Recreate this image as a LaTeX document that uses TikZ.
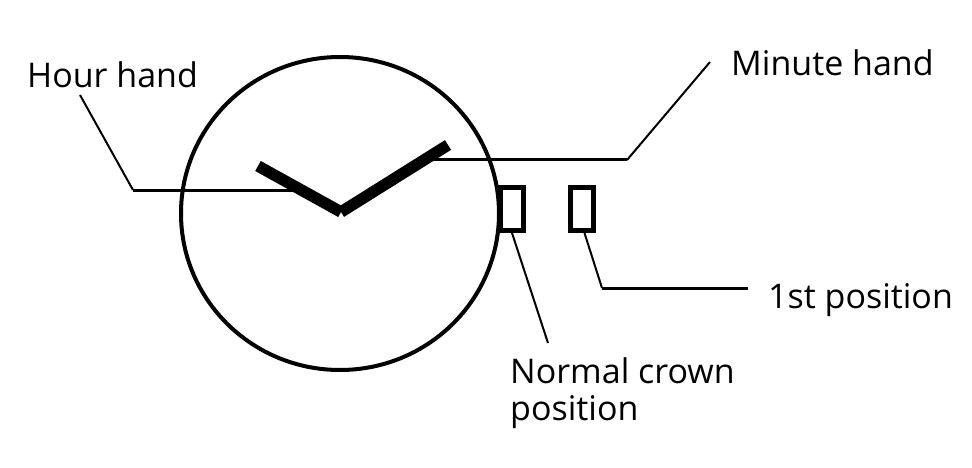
\documentclass[tikz,border=0pt]{standalone}
\usepackage{fontspec}
\setmainfont{Open Sans}
\begin{document}
\begin{tikzpicture}[x=1pt,y=-1pt,
  lbl/.style={anchor=base west,inner sep=0pt,font=\fontsize{34}{37}\selectfont},
  leader/.style={line width=2pt},
  rail/.style={line width=3pt},
  hand/.style={line width=11.5pt,line cap=butt},
  crownbox/.style={draw,line width=5pt,minimum width=23pt,minimum height=43pt,inner sep=0pt}]
\useasboundingbox[fill=white] (0,0) rectangle (972,468);
% dial
\draw[line width=4pt] (340,213.5) ellipse [x radius=159pt, y radius=156.5pt];
% labels
\node[lbl] (hour) at (27,88) {Hour hand};
\node[lbl] (minute) at (731,76) {Minute hand};
\node[lbl] (first) at (768,308) {1st position};
\node[lbl,align=left] (normal) at (510,420) {Normal crown\\position};
% crown positions
\node[crownbox] (c0) at (512,209) {};
\node[crownbox] (c1) at (581.5,209) {};
% leader points
\coordinate (hk) at (133,190);
\coordinate (hs) at (300,190);
\coordinate (ht) at (80,95);
\coordinate (mk) at (627,160);
\coordinate (ms) at (424,160);
\coordinate (mt) at (710,62);
\coordinate (nt) at (548,343);
\coordinate (fk) at (602,288);
\coordinate (fe) at (748,288);
% leaders
\draw[rail] (hs) -- (hk);
\draw[leader] (hk) -- (ht);
\draw[rail] (ms) -- (mk);
\draw[leader] (mk) -- (mt);
\draw[leader] (c0.south) -- (nt);
\draw[leader] ([xshift=3pt]c1.south) -- (fk);
\draw[rail] (fk) -- (fe);
% hands
\coordinate (ctr) at (341,212);
\coordinate (hend) at (258,166);
\coordinate (mend) at (448,145);
\draw[hand] (ctr) -- (hend);
\draw[hand] (ctr) -- (mend);
\end{tikzpicture}
\end{document}
